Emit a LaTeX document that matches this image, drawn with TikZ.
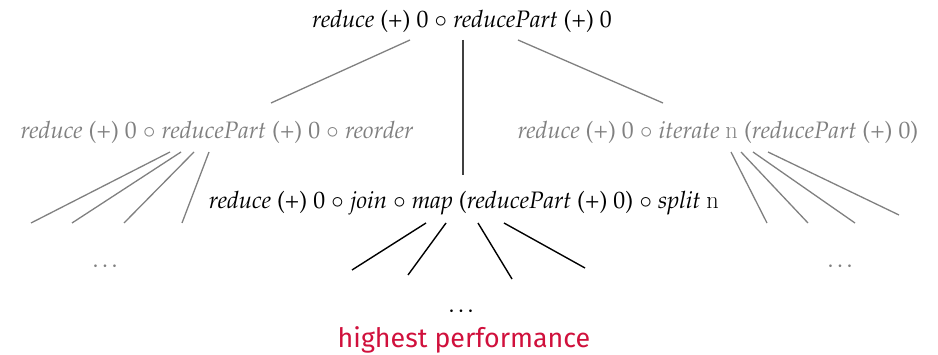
\documentclass[tikz,border=0pt]{standalone}
\usepackage{fontspec}
\usepackage[T1]{fontenc}
\usepackage{mathpazo}
\newfontfamily\labelsans{Fira Sans}
\usetikzlibrary{calc}
\definecolor{perfred}{RGB}{208,16,60}
\definecolor{softgray}{RGB}{128,128,128}
\newcommand{\upn}{{\fontfamily{lmr}\fontshape{n}\selectfont n}}
\newcommand{\cmp}{$\circ$}
\tikzset{
  expr/.style={anchor=base, inner sep=0pt, font=\fontsize{23.8}{28}\selectfont},
  alt/.style={expr, text=softgray},
  dotsnode/.style={anchor=base, inner sep=0pt, font=\fontsize{23.8}{28}\selectfont},
  grayedge/.style={draw=softgray, line width=1.3pt},
  mainedge/.style={draw=black, line width=1.4pt},
  spine/.style={draw=black!75, line width=2pt},
}
\begin{document}
\begin{tikzpicture}[x=1pt, y=-1pt]
\useasboundingbox (0,0) rectangle (938,355);

% program variants
\node[expr] (top) at (462,28) {\textit{reduce} (+) 0 \cmp{} \textit{reducePart} (+) 0};
\node[alt] (lft) at (217,139) {\textit{reduce} (+) 0 \cmp{} \textit{reducePart} (+) 0 \cmp{} \textit{reorder}};
\node[alt] (rgt) at (718,139) {\textit{reduce} (+) 0 \cmp{} \textit{iterate} \upn{} (\textit{reducePart} (+) 0)};
\node[expr] (mid) at (464,209) {\textit{reduce} (+) 0 \cmp{} \textit{join} \cmp{} \textit{map} (\textit{reducePart} (+) 0) \cmp{} \textit{split} \upn};

% elided subtrees
\node[dotsnode, text=softgray] (ldots) at (107,268) {\dots};
\node[dotsnode, text=softgray] (rdots) at (842,268) {\dots};
\node[dotsnode] (mdots) at (463,313) {\dots};
\node[anchor=base, inner sep=0pt, text=perfred, font=\labelsans\fontsize{26.8}{32}\selectfont] (best) at (464,348) {highest performance};

% leaf ends of the rewrite branches
\coordinate (l1) at (31,223);  \coordinate (l2) at (72,223);
\coordinate (l3) at (124,223); \coordinate (l4) at (182,223);
\coordinate (r1) at (767,223); \coordinate (r2) at (808,223);
\coordinate (r3) at (855,223); \coordinate (r4) at (899,215);
\coordinate (m1) at (352,270); \coordinate (m2) at (408,275);
\coordinate (m3) at (512,279); \coordinate (m4) at (585,268);

% first rewrite level
\draw[grayedge] ([xshift=-52pt,yshift=-12pt]top.base) -- ([xshift=54pt,yshift=36pt]lft.base);
\draw[grayedge] ([xshift=56pt,yshift=-12pt]top.base) -- ([xshift=-55pt,yshift=36pt]rgt.base);
\draw[spine] ([xshift=1pt,yshift=-12pt]top.base) -- ([xshift=-1pt,yshift=34pt]mid.base);

% further rewrites
\foreach \dx/\e in {-47/l1,-36/l2,-23/l3,-8/l4}
  \draw[grayedge] ([xshift=\dx pt,yshift=-13pt]lft.base) -- (\e);
\foreach \dx/\e in {13/r1,23/r2,35/r3,50/r4}
  \draw[grayedge] ([xshift=\dx pt,yshift=-13pt]rgt.base) -- (\e);
\foreach \dx/\e in {-38/m1,-18/m2,14/m3,40/m4}
  \draw[mainedge] ([xshift=\dx pt,yshift=-14pt]mid.base) -- (\e);
\end{tikzpicture}
\end{document}
